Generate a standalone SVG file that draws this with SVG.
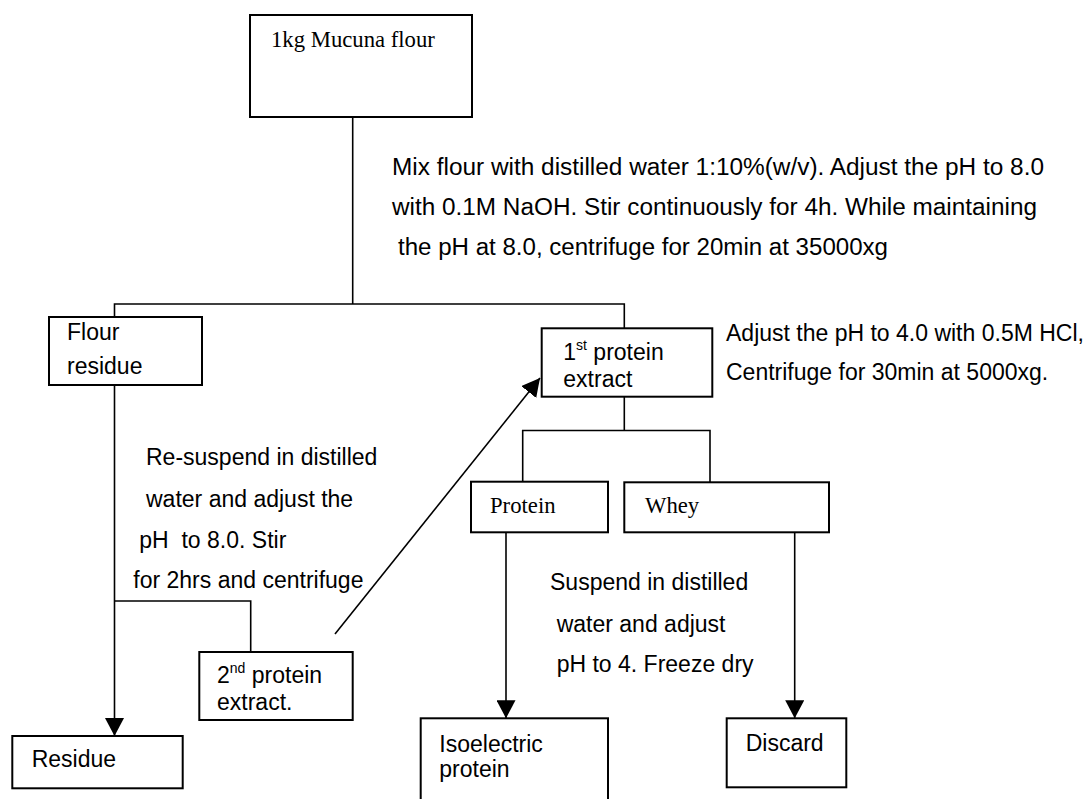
<svg xmlns="http://www.w3.org/2000/svg" width="1092" height="799" viewBox="0 0 1092 799">
<defs>
<style>
.box{fill:#fff;stroke:#000;stroke-width:2}
.ln{fill:none;stroke:#000;stroke-width:1.6}
.sans{font-family:"Liberation Sans",Arial,sans-serif;font-size:23px;fill:#000}
.serif{font-family:"Liberation Serif","Times New Roman",serif;font-size:22.7px;fill:#000}
.sup{font-size:14px}
</style>
<marker id="ah" markerUnits="userSpaceOnUse" markerWidth="18" markerHeight="19" refX="18" refY="9.5" orient="auto">
<path d="M0,0 L18,9.5 L0,19 Z" fill="#000"/>
</marker>
</defs>
<rect width="1092" height="799" fill="#fff"/>
<g id="connectors">
<path class="ln" d="M352.7,117 V304"/>
<path class="ln" d="M114.5,317 V304 H624.3 V328.3"/>
<path class="ln" d="M114.5,385 V736" marker-end="url(#ah)"/>
<path class="ln" d="M114.5,601 H250.7 V652"/>
<path class="ln" d="M335,634 L540,378" marker-end="url(#ah)"/>
<path class="ln" d="M624.3,396.7 V430.5"/>
<path class="ln" d="M522.7,481.7 V430.5 H710 V482.3"/>
<path class="ln" d="M506,532.3 V718.3" marker-end="url(#ah)"/>
<path class="ln" d="M794.7,532.3 V718.3" marker-end="url(#ah)"/>
</g>
<g id="n-flour">
<rect class="box" x="250" y="15" width="222" height="102"/>
<text class="serif" x="271" y="47">1kg Mucuna flour</text>
</g>
<g id="n-flour-residue">
<rect class="box" x="49" y="317" width="153" height="68"/>
<text class="sans" x="67" y="340">Flour</text>
<text class="sans" x="67" y="374">residue</text>
</g>
<g id="n-first-extract">
<rect class="box" x="541.7" y="328.3" width="170.6" height="68.4"/>
<text class="sans" x="563.3" y="360">1<tspan class="sup" dy="-10">st</tspan><tspan dy="10"> protein</tspan></text>
<text class="sans" x="563.3" y="386.7">extract</text>
</g>
<g id="n-protein">
<rect class="box" x="471" y="481.7" width="137" height="50.6"/>
<text class="serif" x="490" y="513.3">Protein</text>
</g>
<g id="n-whey">
<rect class="box" x="624.3" y="482.3" width="204.7" height="50"/>
<text class="serif" x="645" y="513.3">Whey</text>
</g>
<g id="n-second-extract">
<rect class="box" x="199.3" y="652" width="153.4" height="68"/>
<text class="sans" x="217" y="682.7">2<tspan class="sup" dy="-10">nd</tspan><tspan dy="10"> protein</tspan></text>
<text class="sans" x="217" y="710">extract.</text>
</g>
<g id="n-residue">
<rect class="box" x="12.3" y="736" width="170.4" height="52.3"/>
<text class="sans" x="31.7" y="766.7">Residue</text>
</g>
<g id="n-isoelectric">
<rect class="box" x="420.7" y="718.3" width="187.3" height="110"/>
<text class="sans" x="439.3" y="751.7">Isoelectric</text>
<text class="sans" x="439.3" y="776.7">protein</text>
</g>
<g id="n-discard">
<rect class="box" x="726.7" y="718.3" width="119.6" height="69"/>
<text class="sans" x="745.7" y="751">Discard</text>
</g>
<g id="labels">
<text class="sans" x="392" y="175" textLength="652" lengthAdjust="spacingAndGlyphs">Mix flour with distilled water 1:10%(w/v). Adjust the pH to 8.0</text>
<text class="sans" x="392" y="215" textLength="645" lengthAdjust="spacingAndGlyphs">with 0.1M NaOH. Stir continuously for 4h. While maintaining</text>
<text class="sans" x="398" y="255" textLength="490" lengthAdjust="spacingAndGlyphs">the pH at 8.0, centrifuge for 20min at 35000xg</text>
<text class="sans" x="726" y="341">Adjust the pH to 4.0 with 0.5M HCl,</text>
<text class="sans" x="726" y="380">Centrifuge for 30min at 5000xg.</text>
<text class="sans" x="146" y="465">Re-suspend in distilled</text>
<text class="sans" x="146" y="506.7">water and adjust the</text>
<text class="sans" x="139.3" y="548.3" xml:space="preserve">pH  to 8.0. Stir</text>
<text class="sans" x="133.3" y="588.3">for 2hrs and centrifuge</text>
<text class="sans" x="550" y="590">Suspend in distilled</text>
<text class="sans" x="556.7" y="631.7">water and adjust</text>
<text class="sans" x="556.7" y="671.7">pH to 4. Freeze dry</text>
</g>
</svg>
